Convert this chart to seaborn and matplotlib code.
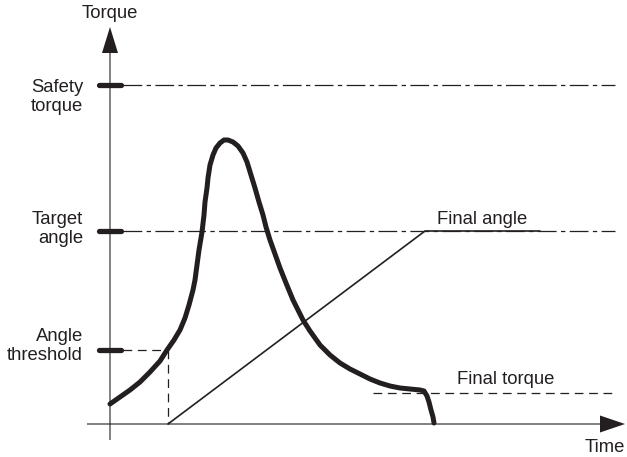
import matplotlib
matplotlib.use("Agg")
import matplotlib.pyplot as plt
import numpy as np
import pandas as pd
import seaborn as sns

# Tightening curve: torque over time (arbitrary units)
torque_time = [0, 10, 20, 30, 40, 50, 57, 64, 70, 75, 79, 83, 85, 87, 89, 92,
               94, 95, 97, 98, 100, 103, 106, 110, 114, 118, 123, 128, 133,
               137, 141, 145, 149, 153, 156, 160, 165, 170, 176, 183, 188, 193,
               200, 210, 220, 230, 240, 250, 260, 270, 280, 290, 300, 310, 314,
               317, 319, 321, 323, 324]
torque_value = [20, 27, 34, 42, 52, 63, 74, 84, 94, 106, 119, 134, 144, 159,
                174, 192, 209, 222, 236, 246, 259, 269, 276, 281, 284, 284,
                282, 278, 271, 262, 249, 236, 222, 209, 197, 184, 170, 156,
                141, 124, 114, 104, 93, 79, 69, 61, 55, 50, 45, 41, 38, 36, 35,
                34, 33, 28, 22, 14, 7, 1]

# Rotation angle: starts at the threshold, ramps to the final angle, holds
angle_time = [58, 315, 430]
angle_value = [0, 193, 193]

# Reference levels on the torque axis
safety_torque = 339
target_angle = 193
angle_threshold = 74
threshold_time = 58
final_torque = 31

level_labels = ["Safety\ntorque", "Target\nangle", "Angle\nthreshold"]
level_values = [safety_torque, target_angle, angle_threshold]

ink = "#231f20"

sns.set_theme(style="white")
plt.rcParams["font.family"] = ["Liberation Sans", "DejaVu Sans"]

fig = plt.figure(figsize=(6.27, 4.57), dpi=100)
ax = fig.add_axes([0, 0, 1, 1])

dashdot = (0, (15, 3.5, 3.5, 3.5))
dashed = (0, (7, 4.5))

# Horizontal reference lines
for lvl in (safety_torque, target_angle):
    ax.plot([13, 505], [lvl, lvl], color=ink, lw=0.9, linestyle=dashdot)
ax.plot([13, threshold_time], [angle_threshold, angle_threshold], color=ink,
        lw=0.9, linestyle=dashed)
ax.plot([threshold_time, threshold_time], [angle_threshold, 0], color=ink,
        lw=0.9, linestyle=dashed)
ax.plot([263, 505], [final_torque, final_torque], color=ink, lw=0.9,
        linestyle=dashed)

# Axes with arrow heads
ax.arrow(-23, 0, 538, 0, width=1.1, head_width=17, head_length=25,
         length_includes_head=True, color=ink, lw=0)
ax.arrow(0, -16, 0, 413, width=1.1, head_width=16, head_length=26,
         length_includes_head=True, color=ink, lw=0)

# Level ticks on the torque axis
for lvl in level_values:
    ax.plot([-11, 11], [lvl, lvl], color=ink, lw=3.8, solid_capstyle="round")

# Angle line
angle_df = pd.DataFrame({"time": angle_time, "value": angle_value})
sns.lineplot(data=angle_df, x="time", y="value", ax=ax, color=ink, lw=1.2,
             sort=False, estimator=None)

# Torque curve
torque_df = pd.DataFrame({"time": torque_time, "torque": torque_value})
sns.lineplot(data=torque_df, x="time", y="torque", ax=ax, color=ink, lw=3.6,
             sort=False, estimator=None, solid_capstyle="round",
             solid_joinstyle="round")
ax.set_xlim(-110, 517)
ax.set_ylim(-33, 424)
ax.axis("off")

fs = 13.3
txt = dict(color=ink, fontsize=fs)
ax.text(0, 410, "Torque", ha="center", va="center", **txt)
ax.text(-27, 327, level_labels[0], ha="right", va="center",
        multialignment="right", linespacing=1.1, **txt)
ax.text(-27, 195, level_labels[1], ha="right", va="center",
        multialignment="right", linespacing=1.1, **txt)
ax.text(-27, 78, level_labels[2], ha="right", va="center",
        multialignment="right", linespacing=1.1, **txt)
ax.text(327, 204, "Final angle", ha="left", va="center", **txt)
ax.text(347, 44, "Final torque", ha="left", va="center", **txt)
ax.text(515, -23, "Time", ha="right", va="center", **txt)

fig.savefig("out.png", dpi=100)
